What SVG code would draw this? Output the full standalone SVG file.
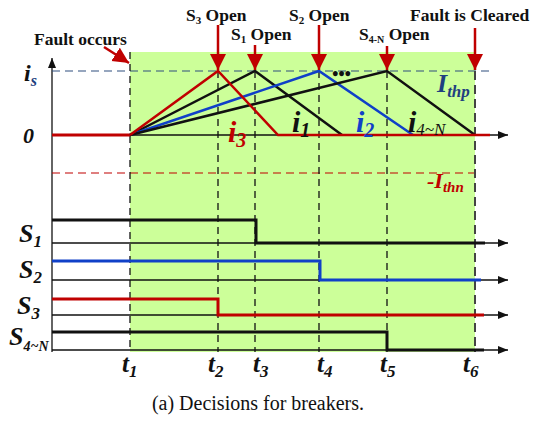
<svg xmlns="http://www.w3.org/2000/svg" width="553" height="421" viewBox="0 0 553 421">
<style>
text{font-family:"Liberation Serif","Times New Roman",serif}
.lbl{font-weight:bold;font-size:17.5px}
.it{font-weight:bold;font-style:italic}
.tdash{stroke:#111;stroke-width:1.3;stroke-dasharray:7,5;fill:none}
.ax{stroke:#111;stroke-width:1.3;fill:none}
.sig{stroke-width:3;fill:none}
.ra{stroke:#c00000;stroke-width:2.5;fill:none}
</style>
<defs>
<marker id="ah" markerWidth="10" markerHeight="8" refX="10" refY="4" orient="auto" markerUnits="userSpaceOnUse"><path d="M0,0 L10,4 L0,8 z" fill="#111"/></marker>
<marker id="rah" markerWidth="14" markerHeight="18" refX="16" refY="8" orient="auto" markerUnits="userSpaceOnUse"><path d="M0,0 L16,8 L0,16 z" fill="#c00000"/></marker>
</defs>
<rect x="130" y="52" width="345" height="300" fill="#ccff99"/>
<g id="connectors">
<line class="ax" x1="52" y1="352" x2="52" y2="58" marker-end="url(#ah)" stroke-width="1.6"/>
<line x1="52" y1="71" x2="490" y2="71" stroke="#2f4f7f" stroke-width="1.2" stroke-dasharray="8,5"/>
<line x1="52" y1="173" x2="478" y2="173" stroke="#c00000" stroke-width="1.2" stroke-dasharray="8,5"/>
<line class="ax" x1="130" y1="135" x2="508" y2="135" marker-end="url(#ah)"/>
<line class="tdash" x1="130" y1="52" x2="130" y2="352"/>
<line class="tdash" x1="218" y1="71" x2="218" y2="352"/>
<line class="tdash" x1="255" y1="71" x2="255" y2="352"/>
<line class="tdash" x1="319" y1="71" x2="319" y2="352"/>
<line class="tdash" x1="387" y1="71" x2="387" y2="352"/>
<line x1="475" y1="71" x2="475" y2="352" stroke="#444" stroke-width="2" stroke-dasharray="9,5"/>
<polyline points="52,135 130,135" stroke="#c00000" stroke-width="3" fill="none"/>
<polyline points="130,135 255,71 342,135" stroke="#111" stroke-width="2.5" fill="none"/>
<polyline points="130,135 319,71 413,135" stroke="#1040c8" stroke-width="2.5" fill="none"/>
<polyline points="130,135 387,71 475,135" stroke="#111" stroke-width="2.5" fill="none"/>
<polyline points="130,135 218,71 278,135 490,135" stroke="#c00000" stroke-width="2.5" fill="none"/>
<line class="ax" x1="52" y1="243" x2="508" y2="243" marker-end="url(#ah)"/>
<line class="ax" x1="52" y1="280" x2="508" y2="280" marker-end="url(#ah)"/>
<line class="ax" x1="52" y1="315" x2="508" y2="315" marker-end="url(#ah)"/>
<line class="ax" x1="52" y1="350" x2="508" y2="350" marker-end="url(#ah)"/>
<polyline class="sig" stroke="#111" points="52,220 256,220 256,243 485,243"/>
<polyline class="sig" stroke="#1040c8" points="52,261 320,261 320,280 481,280"/>
<polyline class="sig" stroke="#c00000" points="52,299 218,299 218,315 484,315"/>
<polyline class="sig" stroke="#111" points="52,332 387,332 387,350 484,350"/>
<line class="ra" x1="218" y1="25" x2="218" y2="70" marker-end="url(#rah)"/>
<line class="ra" x1="255" y1="45" x2="255" y2="70" marker-end="url(#rah)"/>
<line class="ra" x1="319" y1="25" x2="319" y2="70" marker-end="url(#rah)"/>
<line class="ra" x1="387" y1="46" x2="387" y2="70" marker-end="url(#rah)"/>
<line class="ra" x1="475" y1="28" x2="475" y2="70" marker-end="url(#rah)"/>
<line class="ra" x1="104" y1="47" x2="129" y2="63" marker-end="url(#rah)"/>
</g>
<g id="labels" fill="#111">
<text class="lbl" x="34" y="45">Fault occurs</text>
<text class="lbl" x="186" y="21">S<tspan style="font-size:11px" dy="3">3</tspan><tspan dy="-3"> Open</tspan></text>
<text class="lbl" x="231" y="40">S<tspan style="font-size:11px" dy="3">1</tspan><tspan dy="-3"> Open</tspan></text>
<text class="lbl" x="289" y="21">S<tspan style="font-size:11px" dy="3">2</tspan><tspan dy="-3"> Open</tspan></text>
<text class="lbl" x="359" y="40">S<tspan style="font-size:10px" dy="3">4-N</tspan><tspan dy="-3"> Open</tspan></text>
<text class="lbl" x="410" y="21">Fault is Cleared</text>
<text class="it" x="24" y="81" style="font-size:24px">i<tspan style="font-size:16px;fill:#1f3f80" dy="5">s</tspan></text>
<text class="it" x="23" y="143" style="font-size:22px">0</text>
<text class="it" x="228" y="142" style="font-size:30px;fill:#c00000">i<tspan style="font-size:20px" dy="5">3</tspan></text>
<text class="it" x="292" y="132" style="font-size:30px">i<tspan style="font-size:20px" dy="5">1</tspan></text>
<text class="it" x="356" y="132" style="font-size:30px;fill:#1040c8">i<tspan style="font-size:20px" dy="5">2</tspan></text>
<text class="it" x="408" y="132" style="font-size:30px">i<tspan style="font-size:17px;font-weight:normal" dy="3">4~N</tspan></text>
<text class="it" x="332" y="80" style="font-size:18px">•••</text>
<text class="it" x="437" y="92" style="font-size:26px;fill:#1f3f80">I<tspan style="font-size:17px" dy="5">thp</tspan></text>
<text class="it" x="427" y="188" style="font-size:22px;fill:#c00000">-I<tspan style="font-size:15px" dy="4">thn</tspan></text>
<text class="it" x="19" y="242" style="font-size:26px">S<tspan style="font-size:17px" dy="5">1</tspan></text>
<text class="it" x="19" y="278" style="font-size:26px">S<tspan style="font-size:17px" dy="5">2</tspan></text>
<text class="it" x="17" y="314" style="font-size:26px">S<tspan style="font-size:17px" dy="5">3</tspan></text>
<text class="it" x="9" y="345" style="font-size:26px">S<tspan style="font-size:14px" dy="6">4~N</tspan></text>
<text class="it" x="122" y="372" style="font-size:25px">t<tspan style="font-size:17px" dy="5">1</tspan></text>
<text class="it" x="208" y="372" style="font-size:25px">t<tspan style="font-size:17px" dy="5">2</tspan></text>
<text class="it" x="253" y="372" style="font-size:25px">t<tspan style="font-size:17px" dy="5">3</tspan></text>
<text class="it" x="317" y="372" style="font-size:25px">t<tspan style="font-size:17px" dy="5">4</tspan></text>
<text class="it" x="380" y="372" style="font-size:25px">t<tspan style="font-size:17px" dy="5">5</tspan></text>
<text class="it" x="463" y="372" style="font-size:25px">t<tspan style="font-size:17px" dy="5">6</tspan></text>
<text x="258" y="410" text-anchor="middle" style="font-size:20px">(a) Decisions for breakers.</text>
</g>
</svg>
